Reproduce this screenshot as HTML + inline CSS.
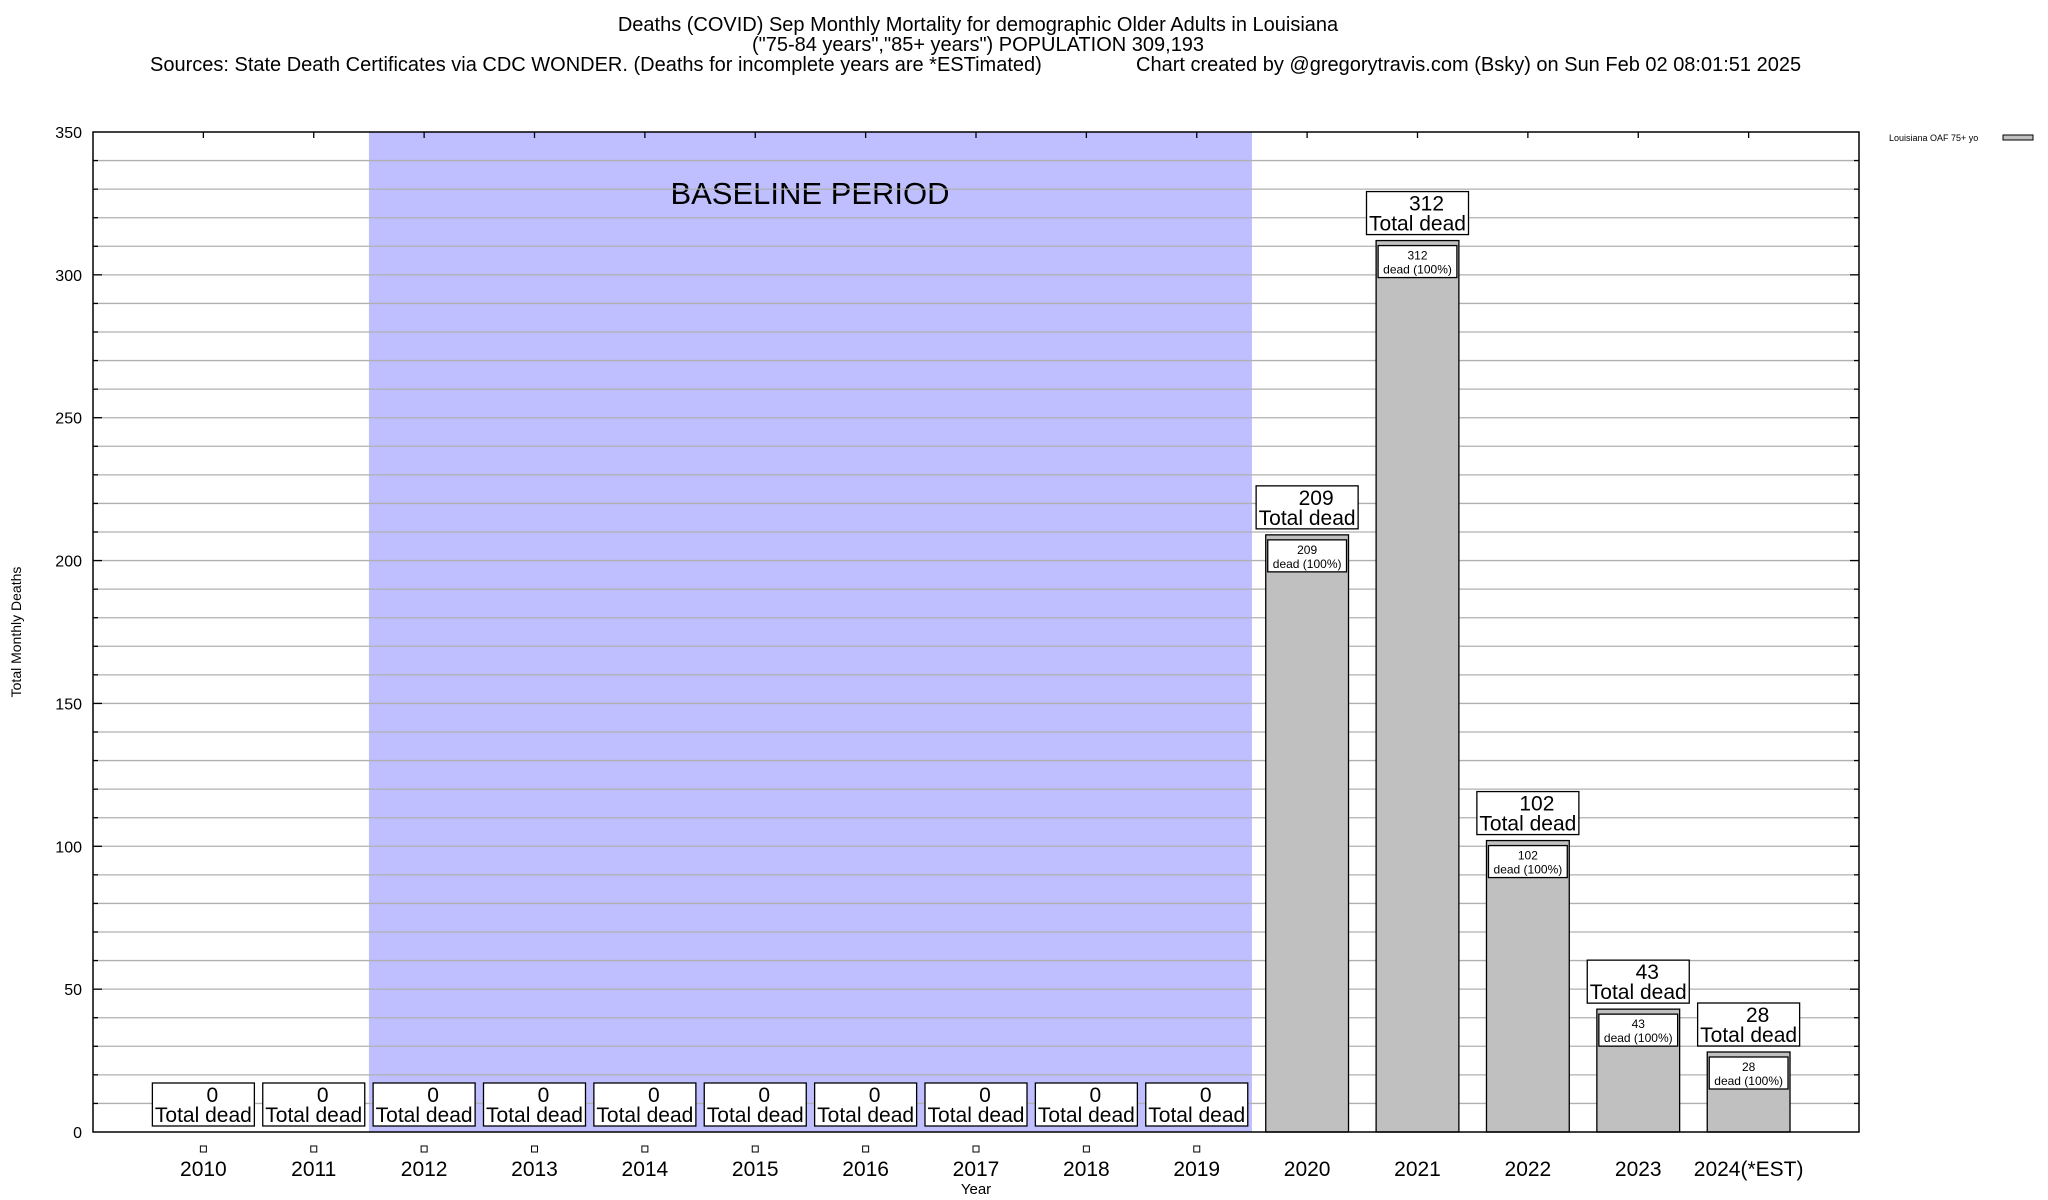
<!DOCTYPE html>
<html><head><meta charset="utf-8"><style>
html,body{margin:0;padding:0;background:#fff}
svg{display:block;font-family:"Liberation Sans",sans-serif}
</style></head><body>
<svg id="c" width="2048" height="1200" viewBox="0 0 2048 1200">
<g font-size="20" fill="#000">
<text x="978" y="31" text-anchor="middle">Deaths (COVID) Sep Monthly Mortality for demographic Older Adults in Louisiana</text>
<text x="978" y="51" text-anchor="middle">("75-84 years","85+ years") POPULATION 309,193</text>
<text x="150" y="71">Sources: State Death Certificates via CDC WONDER. (Deaths for incomplete years are *ESTimated)</text>
<text x="1136" y="71">Chart created by @gregorytravis.com (Bsky) on Sun Feb 02 08:01:51 2025</text>
</g>
<g id="plot"></g>
</svg>
<script>
const categories=["2010","2011","2012","2013","2014","2015","2016","2017","2018","2019","2020","2021","2022","2023","2024(*EST)"];
const deaths=[0,0,0,0,0,0,0,0,0,0,209,312,102,43,28];
const yTicks=[0,50,100,150,200,250,300,350];
const baselineStart=2, baselineEnd=9;
const NS="http://www.w3.org/2000/svg";
const L=93,R=1859,T=132,B=1132,YMAX=350;
const step=(R-L)/(categories.length+1);
function xs(i){return L+(i+1)*step;}
function ys(v){return B-(v/YMAX)*(B-T);}
const g=document.getElementById('plot');
function mk(tag,attrs,parent){const e=document.createElementNS(NS,tag);for(const k in attrs)e.setAttribute(k,attrs[k]);(parent||g).appendChild(e);return e;}
function txt(x,y,s,size,anchor,parent){const t=mk('text',{x:x,y:y,'font-size':size,'text-anchor':anchor||'middle'},parent);t.textContent=s;return t;}
const br=mk('rect',{x:xs(baselineStart)-step/2,y:T,width:(baselineEnd-baselineStart+1)*step,height:B-T,fill:'#bfbfff'});


const bt=txt(810,204,'BASELINE PERIOD',31);


for(let v=10;v<YMAX;v+=10){
  const l=mk('line',{x1:L,x2:R,y1:ys(v),y2:ys(v),stroke:'#b0b0b0','stroke-width':1.3});
  
  
  mk('line',{x1:L,x2:L+(v%50?5:9),y1:ys(v),y2:ys(v),stroke:'#000','stroke-width':1.3});
  mk('line',{x1:R,x2:R-(v%50?5:9),y1:ys(v),y2:ys(v),stroke:'#000','stroke-width':1.3});
}
yTicks.forEach(v=>{
  const t=txt(82,ys(v)+6,String(v),16,'end');
  
  
});
const bw=step*0.75;
categories.forEach((c,i)=>{
  const v=deaths[i],x=xs(i),y=ys(v);
  if(v>0){
    const b=mk('rect',{x:x-bw/2,y:y,width:bw,height:B-y,fill:'#c0c0c0',stroke:'#000','stroke-width':1.3});
    
    
    const ib=mk('rect',{x:x-bw/2+2,y:y+5,width:bw-4,height:32,fill:'#fff',stroke:'#000','stroke-width':1.3});
    
    
    txt(x,y+19,String(v),12);
    txt(x,y+33,'dead (100%)',12);
  } else {
    const sq=mk('rect',{x:x-3,y:1146,width:6,height:6,fill:'#fff',stroke:'#000','stroke-width':1});
    
    
  }
  const bx=mk('rect',{x:x-51,y:y-49,width:102,height:43,fill:'#fff',stroke:'#000','stroke-width':1.3});
  
  
  txt(x+9,y-30,String(v),21);
  txt(x,y-10,'Total dead',21);
  const xl=txt(x,1176,c,21);
  
  
  mk('line',{x1:x,x2:x,y1:T,y2:T+6,stroke:'#000','stroke-width':1.3});
});
const ax=mk('rect',{x:L,y:T,width:R-L,height:B-T,fill:'none',stroke:'#000','stroke-width':1.5});


const yt=txt(0,0,'Total Monthly Deaths',14);
yt.setAttribute('transform','translate(21,632) rotate(-90)');


const xt=txt(976,1194,'Year',15);


const lg=txt(1889,141,'Louisiana OAF 75+ yo',9,'start');


const sw=mk('rect',{x:2003,y:135,width:30,height:5,fill:'#c0c0c0',stroke:'#000','stroke-width':1});


</script>
</body></html>
